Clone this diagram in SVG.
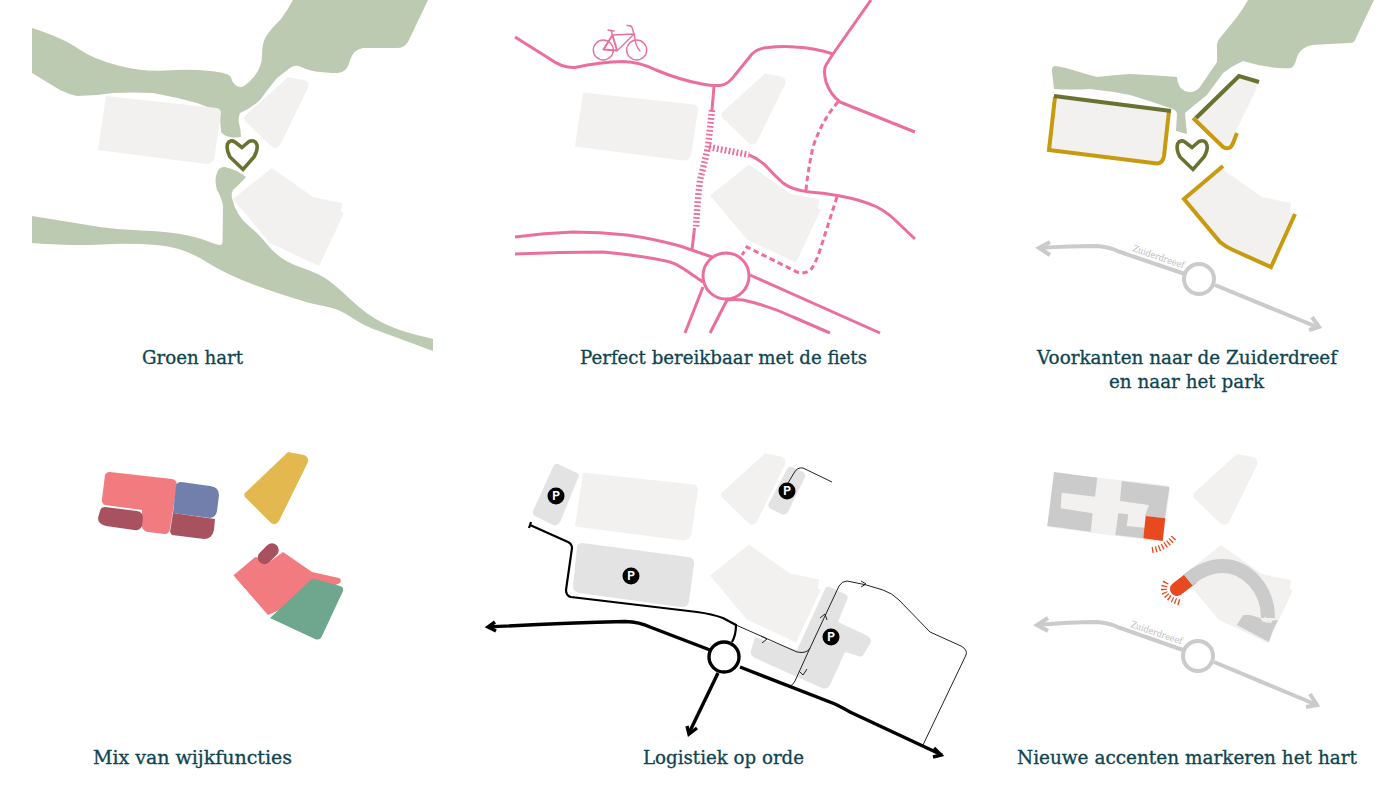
<svg xmlns="http://www.w3.org/2000/svg" width="1400" height="799" viewBox="0 0 1400 799">
<style>
.b{fill:#f2f1ef}
.green{fill:#bdcab2}
.heart{fill:none;stroke:#6a7232;stroke-width:3.6;stroke-linejoin:miter}
.pk{fill:none;stroke:#ea6f9e;stroke-width:3;stroke-linecap:butt;stroke-linejoin:round}
.hatch{fill:none;stroke:#ea6f9e;stroke-width:6.5;stroke-dasharray:1.8 2.2}
.dash{fill:none;stroke:#ea6f9e;stroke-width:3;stroke-dasharray:5.5 3.5}
.bike{fill:none;stroke:#ea6f9e;stroke-width:1.4;stroke-linecap:round;stroke-linejoin:round}
.gold{fill:none;stroke:#c79a0f;stroke-width:4;stroke-linejoin:miter}
.olive{fill:none;stroke:#6a7232;stroke-width:4.2;stroke-linejoin:miter}
.road{fill:none;stroke:#cbcbcb;stroke-width:4;stroke-linejoin:miter}
.rt{font:9.5px "DejaVu Serif","Liberation Serif",serif;fill:#bdbdbd}
.p{fill:#e3e3e3}
.k1{fill:none;stroke:#000;stroke-width:3.4;stroke-linejoin:miter}
.k2{fill:none;stroke:#000;stroke-width:2.2}
.k3{fill:none;stroke:#222;stroke-width:1}
.pc{fill:#000}
.pt{font:bold 12px Roboto,"Liberation Sans",sans-serif;fill:#fff;text-anchor:middle}
.g6{fill:#cbcbcb}
.or{fill:#e9491f}
.burst{fill:none;stroke:#e9491f;stroke-width:6;stroke-dasharray:1.3 2.2}
.t{font:18px "DejaVu Serif","Liberation Serif",serif;fill:#0d4450;stroke:#0d4450;stroke-width:.3;text-anchor:start}
</style>
<defs>
<g id="blocks">
<path class="b" d="M106 96L217 108Q221 109 221 113L214.500 157Q213 164 206 164L98 150Z"/>
<path class="b" d="M288 77L304 80Q310 82 308 88L280 145Q276 151 271 146L246 122Q242 118 246 115Z"/>
<path class="b" d="M272 168L313 197L342 203L341 212L344 213L319 266L270 243L233 199Z"/>
</g>
<path id="heart" d="M242 147.500L235 142Q230 139 227.500 144Q226 150 230 157L243 169.500L254 157Q258 150 257 145Q255 139 249 141.500Z"/>
</defs>

<g id="panel-groen-hart">
<path class="green" d="M32 28Q63 38 78 48.500Q93 59 118 65.500Q143 72 166 70.500Q190 69 210 71Q230 73 231 77.500Q232 82 235.500 85Q239 88 243 86.500Q247 85 254.500 76Q262 67 262 55Q262 43 266 36.500Q270 30 281 19Q287 11 293 0L428 0L408 42Q404 48 397 48L363 48Q354 49 350 60Q348 72 338 73Q312 73 300 66.500Q295 64.500 290 68L277 78Q268 89 260 100Q252 108 240 113Q238 118 239 123Q241 130 241 137Q235 138 230 137Q224 136 221 132Q220 122 220 112Q208 107 197 103Q175 97 153 93Q133 92 113 93Q95 96 77 96Q68 94 60 90L32 73Z"/>
<path class="green" d="M32 216L100 227Q120 230 141 230.500Q163 231 180 234Q197 237 207 241Q217 245 220 245Q223 245 222.500 240L223 207Q222 198 217 190Q214 180 217 173Q219 166 225 167Q238 170 246 177Q240 184 233 190Q231 194 232 198Q236 216 250 227Q257 232 268.500 246Q280 260 298.500 266.500Q317 273 325 278Q333 283 350 299Q367 315 382 322.500Q397 330 415 334.500L433 339L433 351L372 328.500Q363 325 350 316.500Q337 308 323.500 306Q310 304 270 290.500Q230 277 206.500 262Q183 247 156.500 245Q130 243 101.500 244.500Q73 246 32 243Z"/>
<use href="#blocks"/>
<use href="#heart" class="heart"/>
<text class="t" x="142" y="364" textLength="101" lengthAdjust="spacingAndGlyphs">Groen hart</text>
</g>

<g id="panel-fiets">
<use href="#blocks" transform="translate(477 -3.500)"/>
<g id="connectors-fiets">
<path class="pk" d="M515 37L550 59Q562 68 575 67.500Q600 62 623 61.500Q640 62 656 70Q680 80 702 84Q712 86 720 85.500Q728 85 735 75L752 54Q758 48 768 47.500Q782 46 795 47Q815 48 833 54"/>
<path class="pk" d="M871 0L833 54L826 65Q823 70 826 82Q830 94 840 102L915 132"/>
<path class="pk" d="M714 86L712 110"/>
<path class="hatch" d="M712 110L708 147Q704 165 700 180Q697 205 696 228"/>
<path class="pk" d="M694.500 228L692 250"/>
<path class="hatch" d="M709 147L749 155"/>
<path class="pk" d="M749 155Q757 158 765 165Q774 175 783 183Q792 190 810 192Q825 193 840 196Q862 200 877 207Q888 213 895 220L915 239"/>
<path class="dash" d="M806 190Q808 170 813 147Q822 120 838 102"/>
<path class="dash" d="M837 197L820 250Q816 262 812 268Q806 275 797 272L747 247L742 255"/>
<circle class="pk" cx="726" cy="276" r="23" stroke-width="3.300"/>
<path class="pk" d="M515 237Q544 233 573 232Q600 232 627 235Q655 239 680 246L712 257"/>
<path class="pk" d="M515 254Q560 252 603 252Q645 256 670 262Q677 264 684 269L703 282"/>
<path class="pk" d="M703 287L685 333"/>
<path class="pk" d="M727 300L710 333"/>
<path class="pk" d="M727 300Q735 299 743 300Q770 306 793 317L830 333"/>
<path class="pk" d="M750 275L880 333"/>
</g>
<g id="bike" class="bike">
<circle cx="603.300" cy="50" r="10"/>
<circle cx="636.700" cy="50" r="10"/>
<path stroke-width="2" d="M603.500 49.500L612.500 35L617 50.500Z"/>
<path d="M612.500 35L634 34L617.500 50.500M608 30L614 31M611 30.500L612.500 35"/>
<path d="M627 25.500Q632 25 632.500 29L634 34L636 44Q638 49 640 51"/>
</g>
<text class="t" x="580" y="364" textLength="287" lengthAdjust="spacingAndGlyphs">Perfect bereikbaar met de fiets</text>
</g>

<g id="panel-voorkanten">
<path class="green" d="M1248 0Q1243 9 1237 17Q1228 28 1220 38Q1216 42 1217 47L1217 62Q1208 75 1200 87Q1196 92 1190 92Q1184 92 1180 87Q1177 82 1177 77Q1153 75 1130 74Q1113 75 1097 77Q1085 74 1073 70Q1064 67 1055 66Q1051 67 1052 72L1054 89Q1072 90 1090 89Q1110 91 1130 95Q1150 101 1170 108Q1177 110 1177 114L1176 131L1187 134L1185 113Q1191 108 1197 103Q1202 99 1207 95Q1215 84 1223 73Q1232 66 1243 61Q1256 65 1270 67Q1282 69 1291 68Q1295 66 1297 57Q1301 47 1312 45Q1328 44 1350 43Q1354 43 1355 40L1374 0Z"/>
<use href="#blocks" transform="translate(949 0)"/>
<path class="gold" d="M1055 97L1049 150L1157 163.500Q1163 163 1164 156L1169 111"/>
<path class="olive" d="M1054 96L1171 111"/>
<path class="olive" d="M1196 118L1239 76L1259 82"/>
<path class="gold" d="M1193 118L1223 147Q1230 151 1233 143L1237 133"/>
<path class="gold" d="M1223 166L1184 199L1220 242Q1226 247 1233 250L1271 267L1295 214"/>
<use href="#heart" class="heart" transform="translate(950 0)"/>
<g id="road-a">
<path class="road" d="M1039 248Q1070 246 1097 246Q1110 247 1120 252L1185 274"/>
<path class="road" d="M1215 285L1317 327"/>
<path class="road" d="M1050 242L1039 248L1050 255"/>
<path class="road" d="M1312 317L1319 327L1309 330"/>
<circle class="road" cx="1199" cy="279" r="15"/>
<text class="rt" transform="translate(1132 251) rotate(19)" textLength="54" lengthAdjust="spacingAndGlyphs">Zuiderdreeef</text>
</g>
<text class="t" x="1037" y="364" textLength="300" lengthAdjust="spacingAndGlyphs">Voorkanten naar de Zuiderdreef</text>
<text class="t" x="1109" y="388" textLength="155" lengthAdjust="spacingAndGlyphs">en naar het park</text>
</g>

<g id="panel-mix">
<path fill="#f27b7f" d="M110 472L172 479Q177 480 177 485L170 529Q169 534 165 534L148 532Q143 531 142 527L142 510L105 505Q101 503 102 499L105 475Q106 472 110 472Z"/>
<path fill="#a85260" d="M105 507L137 511Q143 512 143 518L142 526Q140 531 134 530L106 526Q98 524 98 518L100 511Q101 507 105 507Z"/>
<path fill="#707fab" d="M181 482L210 486Q219 487 219 495L217 511Q216 517 210 518L173 513L176 486Q177 482 181 482Z"/>
<path fill="#a85260" d="M173 513L215 519L214 530Q212 539 204 539L172 535L170 532Z"/>
<path fill="#e3b94f" d="M288 452L304 455Q309 457 308 462L279 521Q275 527 270 522L245 497Q243 494 246 492Z"/>
<path fill="#f27b7f" d="M254 558Q256 556 258 558L263 563Q265 565 268 563L283 552L312 572L339 578Q342 579 340 583L268 615L234 576Q233 575 235 574Z"/>
<line x1="264.500" y1="557.500" x2="272" y2="550" stroke="#a85260" stroke-width="13.500" stroke-linecap="round"/>
<path fill="#6ea68e" d="M312 579Q314 578 318 580L340 586Q344 587 343 591L322 636Q320 641 315 639L270 618Z"/>
<text class="t" x="93" y="764" textLength="199" lengthAdjust="spacingAndGlyphs">Mix van wijkfuncties</text>
</g>

<g id="panel-logistiek">
<path class="p" d="M558 464L577 473Q580 475 578 478L561 520Q558 527 553 525L535 516Q532 514 533 511L553 467Q555 463 558 464Z"/>
<path class="p" d="M582 543L688 557Q695 558 694 564L689 601Q688 608 681 607L579 593Q572 591 573 586L577 547Q578 543 582 543Z"/>
<path class="p" d="M792 467L803 472Q806 474 805 477L788 512Q785 516 781 514L771 509Q767 507 769 503L787 469Q789 466 792 467Z"/>
<path class="p" d="M826 587Q829 586 832 588L845 594Q849 596 847 600L838 622L866 635Q872 638 871 642L864 654Q862 658 858 656L845 652L830 685Q827 690 822 688L755 658Q750 655 751 651L755 637L797 650L825 589Z"/>
<use href="#blocks" transform="translate(477 376.500)"/>
<g id="connectors-logistiek">
<path class="k3" d="M736 625L797 652Q803 653 805 652Q809 651 810 648L839 586Q842 581 847 581Q866 584 883 590Q892 593 899 600L930 632L961 646Q968 650 966 655L923 745"/>
<path class="k3" d="M810 648L795 681Q793 685 790 686"/>
<path class="k3" d="M788 483L794 473Q797 467 803 468L832 482"/>
<path class="k3" d="M761 636L767 639L762 643M820 618L825 614L827 620M799 671L803 675L807 669M861 581L866 584L861 587"/>
<path class="k2" d="M530 525L568 542Q572 544 572 548L566 590Q566 596 571 597L697 612Q712 614 723 618L736 625Q736 635 732 642M531 522L529 528"/>
<path class="k1" d="M488 627Q560 623 625 621.500Q640 622 650 627L710 650"/>
<path class="k1" d="M740 667L835 704Q845 709 850 712L942 755"/>
<path class="k1" d="M718 673L689 733"/>
<path class="k1" d="M495 622L488 627L496 631"/>
<path class="k1" d="M934 748L941 755L933 757"/>
<path class="k1" d="M687 726L689 734L697 728"/>
<circle class="k1" cx="724" cy="657" r="15" stroke-width="3.800"/>
</g>
<g id="p1"><circle class="pc" cx="556" cy="496" r="8.500"/><text class="pt" x="556" y="500.300">P</text></g>
<g id="p2"><circle class="pc" cx="631" cy="576" r="8.500"/><text class="pt" x="631" y="580.300">P</text></g>
<g id="p3"><circle class="pc" cx="787" cy="491" r="8.500"/><text class="pt" x="787" y="495.300">P</text></g>
<g id="p4"><circle class="pc" cx="831" cy="637" r="8.500"/><text class="pt" x="831" y="641.300">P</text></g>
<text class="t" x="643" y="764" textLength="161" lengthAdjust="spacingAndGlyphs">Logistiek op orde</text>
</g>

<g id="panel-accenten">
<use href="#blocks" transform="translate(949 377)"/>
<path class="g6" d="M1054 472L1097.300 477.700L1095 496.700L1061.700 492.700L1060.700 508.300L1092.700 513.300L1090.700 531.700L1047.300 526Z"/>
<path class="g6" d="M1121.700 481L1169.300 487L1165 518.300L1145 516L1149 505L1120 501Z"/>
<path class="g6" d="M1118.300 513.300L1128.300 514.300L1126.700 526L1145 527.700L1143.300 538.300L1115.300 535Z"/>
<path class="or" d="M1145.700 516L1165.300 518.300L1162.700 541L1143.300 538.300Z"/>
<path class="burst" d="M1152 550Q1166 548 1175 536"/>
<path d="M1177 589L1190 579" fill="none" stroke="#e9491f" stroke-width="14" stroke-linecap="round"/>
<path d="M1188 580C1200 570 1212 566 1222 566C1248 566 1268 590 1268 618" fill="none" stroke="#cbcbcb" stroke-width="14"/>
<path class="g6" d="M1236.700 625L1243.300 615L1250 615L1260 618L1263 622L1278 620L1273 630L1269 642Z"/>
<path d="M1265 617L1266 622L1272 622" fill="none" stroke="#f2f1ef" stroke-width="1.300"/>
<path class="burst" d="M1166 582Q1158 597 1182 603"/>
<g id="road-b">
<path class="road" d="M1037 625Q1070 622 1097 622Q1110 623 1120 628L1183 650"/>
<path class="road" d="M1214 662L1317 705"/>
<path class="road" d="M1048 618L1037 625L1048 631"/>
<path class="road" d="M1310 694L1317 705L1306 707"/>
<circle class="road" cx="1198" cy="656" r="15"/>
<text class="rt" transform="translate(1130 627) rotate(19)" textLength="54" lengthAdjust="spacingAndGlyphs">Zuiderdreeef</text>
</g>
<text class="t" x="1017" y="764" textLength="340" lengthAdjust="spacingAndGlyphs">Nieuwe accenten markeren het hart</text>
</g>
</svg>
